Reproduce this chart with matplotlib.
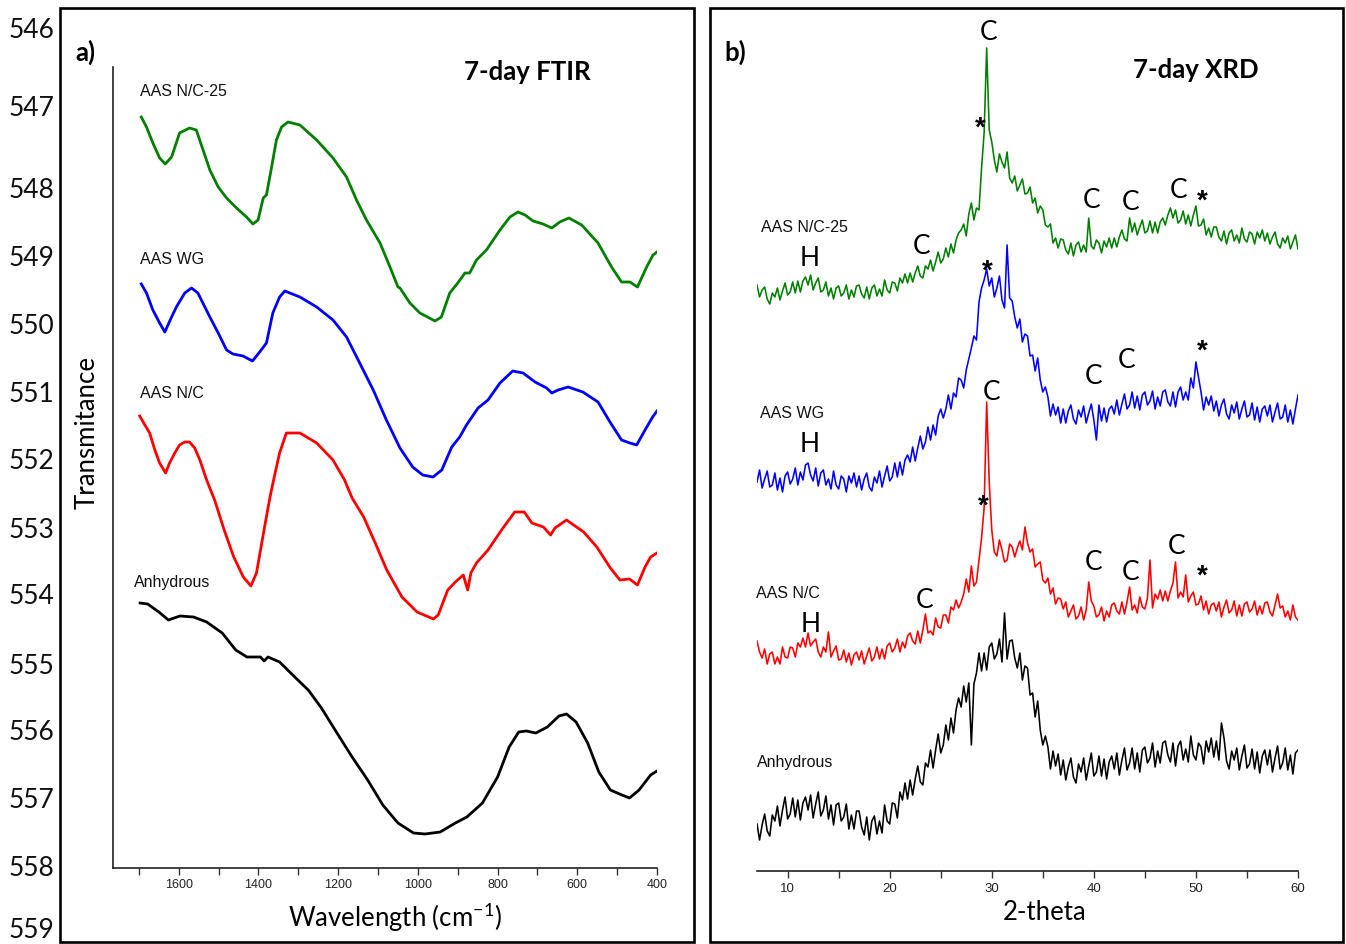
import numpy as np
import matplotlib
matplotlib.use("Agg")
import matplotlib.pyplot as plt
from matplotlib.patches import Rectangle
from matplotlib.ticker import MultipleLocator

# ---------------- FTIR data (wavenumber cm-1, transmittance a.u.) ----------------
ftir_labels = ["AAS N/C-25", "AAS WG", "AAS N/C", "Anhydrous"]
ftir_colors = ["#008000", "#0000ff", "#ff0000", "#000000"]

green_wn = [1694,1681,1665,1648,1634,1618,1598,1573,1556,1539,1522,1501,1480,1455,1430,1414,1401,1388,1380,1367,
            1355,1342,1326,1296,1254,1213,1179,1154,1129,1095,1070,1050,1045,1020,995,957,941,920,900,882,
            870,853,828,794,769,749,731,711,686,664,644,621,589,548,514,489,468,449,426,410,400]
green_T = [753,743,727,712,706,713,737,742,740,720,700,683,672,662,653,646,650,672,675,703,
           730,743,748,745,730,712,693,670,650,627,603,583,582,567,557,549,553,577,587,597,
           597,610,620,640,653,658,655,649,646,642,648,652,645,627,603,588,588,583,603,615,618]

blue_wn = [1694,1681,1665,1648,1635,1618,1606,1585,1568,1552,1522,1501,1480,1464,1439,1415,1397,1380,1364,1347,
           1334,1296,1254,1213,1179,1146,1112,1079,1045,1013,988,962,940,915,895,878,849,824,794,762,
           736,706,677,664,648,623,586,548,518,489,468,451,430,411,400]
blue_T = [586,577,560,547,538,553,563,577,582,577,553,537,520,516,514,509,518,527,557,573,
          579,573,563,550,533,507,480,450,422,403,395,393,400,423,433,445,462,470,487,499,
          497,488,482,477,480,483,478,468,448,430,427,425,440,453,459]

red_wn = [1698,1685,1673,1660,1648,1633,1623,1610,1598,1585,1573,1560,1547,1530,1510,1486,1462,1438,1419,1405,
          1386,1371,1362,1347,1330,1296,1254,1213,1184,1165,1136,1107,1078,1040,1002,961,949,925,906,886,
          875,867,853,824,790,757,733,714,685,667,656,627,584,551,517,493,469,449,430,416,400]
red_T = [454,445,437,420,407,397,407,417,425,428,428,422,410,390,370,340,313,293,284,297,
         340,373,390,417,437,437,427,410,390,372,353,327,300,273,258,251,255,280,288,295,
         280,297,307,320,340,358,358,347,343,335,342,350,338,323,302,290,291,285,303,313,317]

black_wn = [1697,1678,1650,1626,1597,1563,1530,1491,1457,1429,1395,1386,1376,1347,1309,1275,1242,1203,1165,1126,
            1088,1050,1011,982,944,906,877,838,800,771,747,728,704,675,646,627,603,574,546,517,
            488,469,445,416,400]
black_T = [267,266,258,250,254,253,248,237,220,213,213,209,213,208,193,180,162,137,113,90,
           65,47,37,36,38,47,53,67,93,123,138,139,137,143,154,156,148,127,98,80,
           75,72,80,95,99]

ftir_ticks = [1600, 1400, 1200, 1000, 800, 600, 400]

# ---------------- XRD data (2-theta 7..60 step 0.25, intensity a.u.) ----------------
two_theta = np.arange(7.0, 60.001, 0.25)
xrd_labels = ["AAS N/C-25", "AAS WG", "AAS N/C", "Anhydrous"]

xrd_green = [715,703,710,713,701,696,707,703,712,700,709,717,705,708,718,707,719,708,719,723,
             715,725,710,717,722,708,710,718,704,712,701,712,714,704,707,715,701,710,703,714,
             715,706,702,713,701,712,715,704,711,704,720,710,707,718,717,709,722,717,726,717,
             727,718,727,734,724,722,734,731,740,729,738,748,737,741,752,743,756,747,760,767,
             770,776,764,786,797,780,792,790,832,867,952,870,858,840,828,846,838,832,848,822,
             817,824,809,815,821,806,807,813,797,802,787,794,790,775,773,776,757,762,752,761,
             760,750,746,757,744,755,758,748,755,748,782,754,751,760,757,747,759,753,762,752,
             762,753,763,770,761,759,782,768,777,765,773,780,767,769,779,767,778,767,778,782,
             775,785,792,782,790,777,780,789,776,785,774,785,794,774,775,781,765,772,763,773,
             773,763,759,769,756,767,770,759,765,757,772,761,758,768,766,756,768,762,770,759,
             767,756,763,768,756,752,762,757,764,751,758,765,751]
xrd_blue = [518,530,512,521,529,513,515,527,510,522,508,524,528,516,521,532,515,528,520,535,
            537,525,519,532,514,527,530,515,521,511,529,515,511,524,521,508,524,517,527,513,
            524,510,521,527,513,509,523,517,529,513,524,534,519,523,537,523,538,525,540,545,
            538,553,539,552,564,551,558,573,560,575,565,584,591,582,591,605,591,607,603,622,
            620,612,630,641,652,664,660,698,712,720,731,714,722,703,712,724,700,692,755,702,
            699,683,672,681,658,666,664,644,645,629,642,620,608,613,603,584,596,585,593,577,
            591,577,589,595,581,576,590,583,594,577,587,596,580,560,595,579,592,578,591,594,
            586,600,585,596,606,591,595,608,592,604,590,605,608,595,599,609,591,603,594,608,
            610,598,594,608,593,608,613,600,608,600,622,612,638,623,608,590,603,595,604,589,
            599,584,595,601,586,581,595,587,598,581,591,599,583,585,597,580,593,578,591,594,
            584,595,578,588,597,581,583,595,578,590,576,591,605]
xrd_red = [359,348,342,351,336,346,348,336,343,336,353,343,342,353,352,343,357,353,362,353,
           367,354,358,361,348,343,353,348,368,343,349,354,340,341,350,338,347,335,345,348,
           340,349,336,344,352,339,343,353,341,351,341,354,357,348,352,361,348,358,352,364,
           367,359,356,369,357,370,386,367,369,365,382,373,372,385,385,377,393,390,400,392,
           398,406,421,408,434,414,418,440,462,492,598,518,470,448,444,460,450,438,440,456,
           453,443,452,459,450,473,457,448,451,433,436,438,420,417,422,406,412,396,402,401,
           391,398,383,389,395,381,384,393,380,390,418,399,394,383,385,393,379,389,383,395,
           397,389,386,398,386,398,413,390,395,387,403,393,391,402,440,392,406,401,410,399,
           409,399,409,417,438,402,408,403,425,398,404,408,395,396,404,390,399,386,395,397,
           389,398,383,393,400,387,390,399,384,395,384,396,398,388,391,399,385,394,386,397,
           398,388,384,395,406,392,394,383,389,380,395,383,380]
xrd_black = [176,160,175,186,169,164,185,179,194,174,190,203,181,186,202,183,200,180,197,203,
             190,205,182,196,208,184,190,204,181,195,175,195,197,179,183,196,171,185,171,189,
             189,173,165,183,160,179,184,166,179,167,195,179,176,197,196,182,208,200,217,201,
             220,205,221,234,218,215,237,233,250,232,250,266,247,255,275,260,282,267,290,302,
             293,314,298,317,255,316,327,347,329,347,330,353,357,341,346,361,338,387,341,359,
             360,342,332,347,320,334,332,305,307,283,299,270,255,264,253,231,249,234,246,225,
             240,220,233,242,223,217,236,228,242,220,234,247,224,228,244,224,241,221,238,244,
             231,247,225,240,252,230,237,252,231,247,228,250,253,237,242,257,233,249,237,257,
             259,245,238,257,234,254,259,240,251,238,264,245,240,257,253,236,259,248,262,243,
             259,240,277,262,239,231,249,240,252,230,244,255,232,236,251,231,248,227,244,250,
             235,250,228,242,254,231,237,252,230,245,226,247,250]

# phase markers: (text, 2-theta, intensity)
xrd_marks = [("C", 29.7, 967), ("*", 28.9, 880), ("H", 12.2, 742), ("C", 23.1, 754),
             ("C", 39.8, 800), ("C", 43.6, 797), ("C", 48.3, 810), ("*", 50.6, 807),
             ("*", 29.55, 737), ("H", 12.2, 556), ("C", 40.0, 623), ("C", 43.2, 640), ("*", 50.6, 657),
             ("C", 30.0, 607), ("*", 29.2, 502), ("H", 12.3, 375), ("C", 23.4, 399),
             ("C", 40.0, 437), ("C", 43.6, 428), ("C", 48.1, 454), ("*", 50.6, 432)]

line_numbers = [546, 547, 548, 549, 550, 551, 552, 553, 554, 555, 556, 557, 558, 559]
line_number_y = [30, 109, 190, 258, 326, 395, 462, 530, 597, 666, 733, 801, 869, 931]

# ---------------- figure ----------------
W, H = 1346, 944
fig = plt.figure(figsize=(W / 100, H / 100), dpi=100)
CAL = ["Lato", "DejaVu Sans"]
ARI = ["Liberation Sans", "DejaVu Sans"]


def fx(x):
    return x / W


def fy(y):
    return 1 - y / H


def rect(x0, y0, x1, y1):
    return [fx(x0), fy(y1), fx(x1) - fx(x0), fy(y0) - fy(y1)]


# panel frames
for (x0, y0, x1, y1) in [(60, 8, 694, 942), (710, 8, 1343, 942)]:
    fig.patches.append(Rectangle((fx(x0), fy(y1)), fx(x1) - fx(x0), fy(y0) - fy(y1),
                                 transform=fig.transFigure, fill=False, lw=1.9, ec="black"))

# manuscript line numbers
for n, yy in zip(line_numbers, line_number_y):
    fig.text(fx(9), fy(yy), str(n), family=CAL, fontsize=19, ha="left", va="center", color="#111111")

# ---- FTIR ----
ax1 = fig.add_axes(rect(113, 67, 657, 868))
for wn, T, c in zip([green_wn, blue_wn, red_wn, black_wn], [green_T, blue_T, red_T, black_T], ftir_colors):
    ax1.plot(wn, T, color=c, lw=2.0, solid_joinstyle="round")
ax1.set_xlim(1765, 400)
ax1.set_ylim(2, 803)
for s in ["top", "right"]:
    ax1.spines[s].set_visible(False)
for s in ["left", "bottom"]:
    ax1.spines[s].set_linewidth(1.2)
    ax1.spines[s].set_color("#222222")
ax1.set_yticks([])
ax1.set_xticks(ftir_ticks)
ax1.xaxis.set_minor_locator(MultipleLocator(100))
ax1.tick_params(axis="x", which="both", direction="out", length=5, width=1.0, color="#333333")
ax1.tick_params(axis="x", which="major", labelsize=9, pad=3, labelcolor="#222222")
for lab in ax1.get_xticklabels():
    lab.set_family(ARI)
fig.text(fx(87), fy(433), "Transmitance", family=CAL, fontsize=18.5, rotation=90, ha="center", va="center")
fig.text(fx(395), fy(917), r"Wavelength (cm$^{\mathregular{-1}}$)", family=CAL, fontsize=18.5,
         ha="center", va="center")
ftir_label_pos = [(1698, 778), (1698, 610), (1698, 476), (1713, 287)]
for lab, (xx, yy) in zip(ftir_labels, ftir_label_pos):
    ax1.text(xx, yy, lab, family=ARI, fontsize=11.5, ha="left", va="center", color="#111111")
fig.text(fx(75), fy(52), "a)", family=CAL, fontsize=18.5, fontweight="bold", ha="left", va="center")
fig.text(fx(527), fy(72), "7-day FTIR", family=CAL, fontsize=18.5, fontweight="bold", ha="center", va="center")

# ---- XRD ----
ax2 = fig.add_axes(rect(757, 20, 1298, 871))
for yv, c in zip([xrd_green, xrd_blue, xrd_red, xrd_black], ftir_colors):
    ax2.plot(two_theta, yv, color=c, lw=1.15)
ax2.set_xlim(7, 60)
ax2.set_ylim(129, 980)
for s in ["top", "right", "left"]:
    ax2.spines[s].set_visible(False)
ax2.spines["bottom"].set_linewidth(1.2)
ax2.spines["bottom"].set_color("#222222")
ax2.set_yticks([])
ax2.set_xticks([10, 20, 30, 40, 50, 60])
ax2.xaxis.set_minor_locator(MultipleLocator(5))
ax2.tick_params(axis="x", which="both", direction="out", length=5, width=1.0, color="#333333")
ax2.tick_params(axis="x", which="major", labelsize=9.5, pad=4, labelcolor="#222222")
for lab in ax2.get_xticklabels():
    lab.set_family(ARI)
fig.text(fx(1045), fy(913), "2-theta", family=CAL, fontsize=18.5, ha="center", va="center")
xrd_label_pos = [(7.4, 772), (7.3, 586), (6.9, 407), (7.0, 237)]
for lab, (xx, yy) in zip(xrd_labels, xrd_label_pos):
    ax2.text(xx, yy, lab, family=ARI, fontsize=11.5, ha="left", va="center", color="#111111")
for t, xx, yy in xrd_marks:
    if t == "*":
        ax2.text(xx, yy - 16, t, family=ARI, fontsize=20, fontweight="bold", ha="center", va="baseline")
    else:
        ax2.text(xx, yy, t, family=CAL, fontsize=19, ha="center", va="center")
fig.text(fx(735), fy(52), "b)", family=CAL, fontsize=18.5, fontweight="bold", ha="center", va="center")
fig.text(fx(1196), fy(70), "7-day XRD", family=CAL, fontsize=18.5, fontweight="bold", ha="center", va="center")

fig.savefig("out.png", dpi=100)
